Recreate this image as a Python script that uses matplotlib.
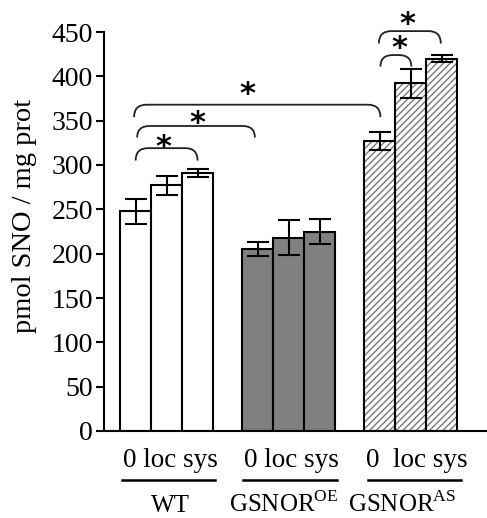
import matplotlib
matplotlib.use('Agg')
import matplotlib.pyplot as plt
from matplotlib.path import Path
from matplotlib.patches import PathPatch

plt.rcParams['font.family'] = ['Liberation Serif', 'DejaVu Serif']
plt.rcParams['mathtext.fontset'] = 'custom'
plt.rcParams['mathtext.rm'] = 'Liberation Serif'
plt.rcParams['hatch.linewidth'] = 1.0

# ---- data ----
groups = ['WT', r'GSNOR$^{\mathregular{OE}}$', r'GSNOR$^{\mathregular{AS}}$']
treatments = ['0', 'loc', 'sys']
sub_labels = ['0 loc sys', '0 loc sys', '0  loc sys']
wt_means = [248, 277, 291]
wt_err = [14, 11, 5]
oe_means = [205, 218, 225]
oe_err = [8, 20, 14]
as_means = [327, 392, 420]
as_err = [10, 16, 4]
yticks = [0, 50, 100, 150, 200, 250, 300, 350, 400, 450]

# significance brackets: (x_start, x_end, y_top, y_end)
brackets = [(0.0, 2.0, 319, 305),
            (0.05, 3.85, 344, 331),
            (-0.05, 7.9, 368, 354),
            (7.9, 8.9, 424, 411),
            (7.85, 9.85, 451, 437)]
stars = [(0.9, 320), (2.0, 347), (3.6, 379), (8.5, 431), (8.76, 459)]

means = [wt_means, oe_means, as_means]
errs = [wt_err, oe_err, as_err]
group_step = 3.94

fig = plt.figure(figsize=(4.87, 5.18), dpi=100)
ax = fig.add_axes([104 / 487, 1 - 431 / 518, 1 - 104 / 487, 399 / 518])

for g in range(3):
    xs = [g * group_step + i for i in range(len(treatments))]
    if g == 0:
        ax.bar(xs, means[g], width=1.0, color='white', edgecolor='black', linewidth=1.5, zorder=2)
    elif g == 1:
        ax.bar(xs, means[g], width=1.0, color='#808080', edgecolor='black', linewidth=1.5, zorder=2)
    else:
        ax.bar(xs, means[g], width=1.0, color='white', edgecolor='#7a7a7a', hatch='/////',
               linewidth=0, zorder=2)
        ax.bar(xs, means[g], width=1.0, fill=False, edgecolor='black', linewidth=1.5, zorder=3)
    ax.errorbar(xs, means[g], yerr=errs[g], fmt='none', ecolor='black', elinewidth=1.5,
                capsize=8, capthick=1.5, zorder=4)

for (x1, x2, yt, ye) in brackets:
    rx = 0.4
    verts = [(x1, ye), (x1, yt), (x1 + rx, yt), (x2 - rx, yt), (x2, yt), (x2, ye)]
    codes = [Path.MOVETO, Path.CURVE3, Path.CURVE3, Path.LINETO, Path.CURVE3, Path.CURVE3]
    ax.add_patch(PathPatch(Path(verts, codes), fill=False, edgecolor='#222222', lw=1.3,
                           clip_on=False, zorder=5))

for (sx, sy) in stars:
    ax.text(sx, sy, '*', ha='center', va='center', fontsize=22, fontweight='bold',
            family='DejaVu Sans', clip_on=False)

ax.set_xlim(-1.02, 11.34)
ax.set_ylim(0, 450)
ax.set_yticks(yticks)
ax.set_xticks([])
for s in ['top', 'right']:
    ax.spines[s].set_visible(False)
for s in ['left', 'bottom']:
    ax.spines[s].set_linewidth(1.5)
ax.tick_params(axis='y', direction='out', length=6, width=1.5, labelsize=20, pad=2)

tr = ax.get_xaxis_transform()
sub_x = [1.11, 5.02, 9.08]
line_x = [(-0.44, 2.56), (3.47, 6.5), (7.5, 10.5)]
for g in range(3):
    ax.text(sub_x[g], -0.073, sub_labels[g], transform=tr, ha='center', va='center',
            fontsize=19.5, clip_on=False)
    ax.plot(line_x[g], [-0.123, -0.123], transform=tr, color='black', lw=1.8, clip_on=False)
ax.text(1.11, -0.202, groups[0], transform=tr, ha='center', va='baseline', fontsize=18, clip_on=False)
ax.text(4.79, -0.202, groups[1], transform=tr, ha='center', va='baseline', fontsize=18, clip_on=False)
ax.text(6.85, -0.202, groups[2], transform=tr, ha='left', va='baseline', fontsize=18, clip_on=False)

fig.text(25 / 487, 1 - 216 / 518, 'pmol SNO / mg prot', rotation=90, ha='center', va='center',
         fontsize=20.5)

fig.savefig('out.png', dpi=100)
